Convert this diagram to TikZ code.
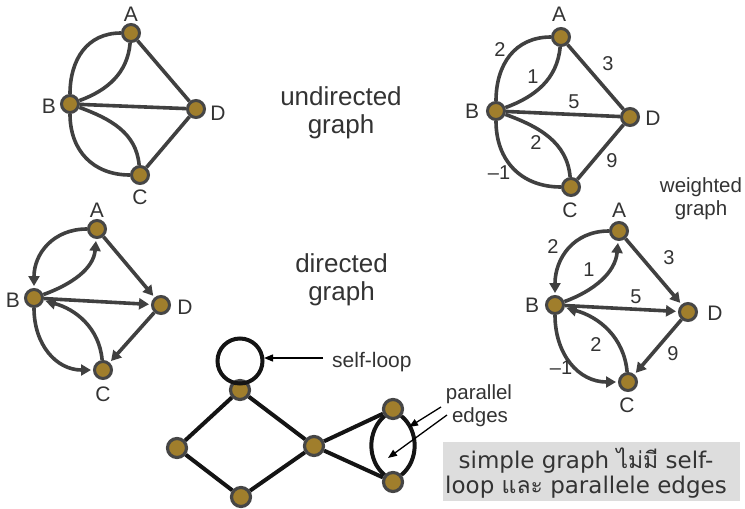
\documentclass[tikz,border=0pt]{standalone}
\usepackage{fontspec}
\setmainfont{Liberation Sans}
\newfontfamily\boxfont{DejaVu Sans}
\newfontfamily\thaifont[Script=Thai]{Loma}
\usetikzlibrary{arrows.meta}
\definecolor{edgegray}{RGB}{64,64,64}
\definecolor{nodefill}{RGB}{160,126,44}
\definecolor{nodeline}{RGB}{70,70,70}
\definecolor{labelgray}{RGB}{51,51,51}
\definecolor{boxgray}{RGB}{221,221,221}
\begin{document}
\begin{tikzpicture}[x=1pt,y=1pt,
 vert/.style={circle,draw=nodeline,fill=nodefill,line width=3pt,minimum size=17pt,inner sep=0pt},
 bvert/.style={vert,minimum size=19pt,line width=3.2pt},
 gedge/.style={draw=edgegray,line width=3.6pt},
 bedge/.style={draw=black!92,line width=4pt},
 arr/.style={gedge,-{Triangle[length=10pt,width=11pt]},shorten >=2pt},
 pointer/.style={draw=black,line width=1.3pt,-{Triangle[length=9pt,width=7pt]}},
 lab/.style={text=labelgray,font=\fontsize{21}{24}\selectfont,inner sep=0pt},
 wlab/.style={text=labelgray,font=\fontsize{20}{24}\selectfont,inner sep=0pt},
 title/.style={text=labelgray,font=\fontsize{26}{28}\selectfont,inner sep=0pt,anchor=base},
 smalltitle/.style={text=labelgray,font=\fontsize{20.5}{23}\selectfont,inner sep=0pt,anchor=base},
 boxtext/.style={text=labelgray,font=\boxfont\fontsize{23}{25}\selectfont,inner sep=0pt,align=center}
]
\useasboundingbox (0,0) rectangle (745,-509);

% ---------- undirected graph ----------
\node[vert] (A1) at (131,-33) {};
\node[vert] (B1) at (70,-104) {};
\node[vert] (D1) at (196,-109) {};
\node[vert] (C1) at (140,-175) {};
\draw[gedge] (A1) to[out=180,in=90,looseness=1.1] (B1);
\draw[gedge] (A1) to[out=-95,in=20] (B1);
\draw[gedge] (B1) to[out=-90,in=180,looseness=1.1] (C1);
\draw[gedge] (B1) to[out=-20,in=95] (C1);
\draw[gedge] (A1) -- (D1);
\draw[gedge] (B1) -- (D1);
\draw[gedge] (C1) -- (D1);
\node[lab] (lA1) at (131,-14.5) {A};
\node[lab] (lB1) at (49,-106) {B};
\node[lab] (lD1) at (218,-113) {D};
\node[lab] (lC1) at (140,-197) {C};

\node[title] (t1a) at (341,-105) {undirected};
\node[title] (t1b) at (341,-133) {graph};

% ---------- weighted undirected graph ----------
\node[vert] (A2) at (561,-37) {};
\node[vert] (B2) at (496,-111) {};
\node[vert] (D2) at (630,-117) {};
\node[vert] (C2) at (571,-187) {};
\draw[gedge] (A2) to[out=180,in=90,looseness=1.1] (B2);
\draw[gedge] (A2) to[out=-95,in=20] (B2);
\draw[gedge] (B2) to[out=-90,in=180,looseness=1.1] (C2);
\draw[gedge] (B2) to[out=-20,in=95] (C2);
\draw[gedge] (A2) -- (D2);
\draw[gedge] (B2) -- (D2);
\draw[gedge] (C2) -- (D2);
\node[lab] (lA2) at (559,-14) {A};
\node[lab] (lB2) at (472,-111) {B};
\node[lab] (lD2) at (653,-118) {D};
\node[lab] (lC2) at (570,-210) {C};
\node[wlab] (w2a) at (500,-50) {2};
\node[wlab] (w2b) at (533,-77) {1};
\node[wlab] (w2c) at (608,-64) {3};
\node[wlab] (w2d) at (574,-102) {5};
\node[wlab] (w2e) at (536,-143) {2};
\node[wlab] (w2f) at (499,-173) {\textendash1};
\node[wlab] (w2g) at (612,-161) {9};

\node[smalltitle] (t2a) at (701,-192) {weighted};
\node[smalltitle] (t2b) at (701,-215) {graph};

% ---------- directed graph ----------
\node[vert] (A3) at (97,-229) {};
\node[vert] (B3) at (34,-298) {};
\node[vert] (D3) at (161,-305) {};
\node[vert] (C3) at (103,-370) {};
\draw[arr] (A3) to[out=180,in=90,looseness=1.1] (B3);
\draw[arr] (B3) to[out=20,in=-95] (A3);
\draw[arr] (B3) to[out=-90,in=180,looseness=1.1] (C3);
\draw[arr] (C3) to[out=95,in=-15] (B3);
\draw[arr] (A3) -- (D3);
\draw[arr] (B3) -- (D3);
\draw[arr] (D3) -- (C3);
\node[lab] (lA3) at (97,-210) {A};
\node[lab] (lB3) at (13,-300) {B};
\node[lab] (lD3) at (185,-307) {D};
\node[lab] (lC3) at (103,-394) {C};

\node[title] (t3a) at (341.5,-272) {directed};
\node[title] (t3b) at (341.5,-300) {graph};

% ---------- weighted directed graph ----------
\node[vert] (A4) at (619,-231) {};
\node[vert] (B4) at (555,-305) {};
\node[vert] (D4) at (688,-312) {};
\node[vert] (C4) at (628,-382) {};
\draw[arr] (A4) to[out=180,in=90,looseness=1.1] (B4);
\draw[arr] (B4) to[out=20,in=-95] (A4);
\draw[arr] (B4) to[out=-90,in=180,looseness=1.1] (C4);
\draw[arr] (C4) to[out=95,in=-15] (B4);
\draw[arr] (A4) -- (D4);
\draw[arr] (B4) -- (D4);
\draw[arr] (D4) -- (C4);
\node[lab] (lA4) at (619,-210) {A};
\node[lab] (lB4) at (532,-305) {B};
\node[lab] (lD4) at (715,-313) {D};
\node[lab] (lC4) at (627,-405) {C};
\node[wlab] (w4a) at (553,-247) {2};
\node[wlab] (w4b) at (589,-270) {1};
\node[wlab] (w4c) at (669,-258) {3};
\node[wlab] (w4d) at (636,-297) {5};
\node[wlab] (w4e) at (596,-345) {2};
\node[wlab] (w4f) at (561,-368) {\textendash1};
\node[wlab] (w4g) at (673,-354) {9};

% ---------- bottom graph ----------
\node[bvert] (T) at (240,-390) {};
\node[bvert] (L) at (177,-448) {};
\node[bvert] (Bo) at (241,-497) {};
\node[bvert] (M) at (314,-446) {};
\node[bvert] (R1) at (393,-409) {};
\node[bvert] (R2) at (393,-482) {};
\coordinate (loopc) at (240,-361);
\draw[bedge] (loopc) circle (22.5);
\draw[bedge] (T) -- (L);
\draw[bedge] (L) -- (Bo);
\draw[bedge] (Bo) -- (M);
\draw[bedge] (T) -- (M);
\draw[bedge] (M) -- (R1);
\draw[bedge] (M) -- (R2);
\draw[bedge] (R1) to[bend right=50] (R2);
\draw[bedge] (R1) to[bend left=50] (R2);

\node[lab,anchor=base west] (sl) at (332,-367) {self-loop};
\coordinate (sls) at (323,-358);
\coordinate (slt) at (264,-358);
\draw[pointer] (sls) -- (slt);

\node[smalltitle] (pe1) at (479,-399) {parallel};
\node[smalltitle] (pe2) at (480,-422) {edges};
\coordinate (p1s) at (441,-407);
\coordinate (p1t) at (409,-427);
\coordinate (p2s) at (447,-415);
\coordinate (p2t) at (388,-458);
\draw[pointer] (p1s) -- (p1t);
\draw[pointer] (p2s) -- (p2t);

% ---------- note box ----------
\node[fill=boxgray,minimum width=297pt,minimum height=59pt,inner sep=0pt] (box) at (591.5,-471.5) {};
\node[boxtext,anchor=base] (bt) at (586,-493) {simple graph {\thaifont ไม่มี} self-\\loop {\thaifont และ} parallele edges};
\end{tikzpicture}
\end{document}
